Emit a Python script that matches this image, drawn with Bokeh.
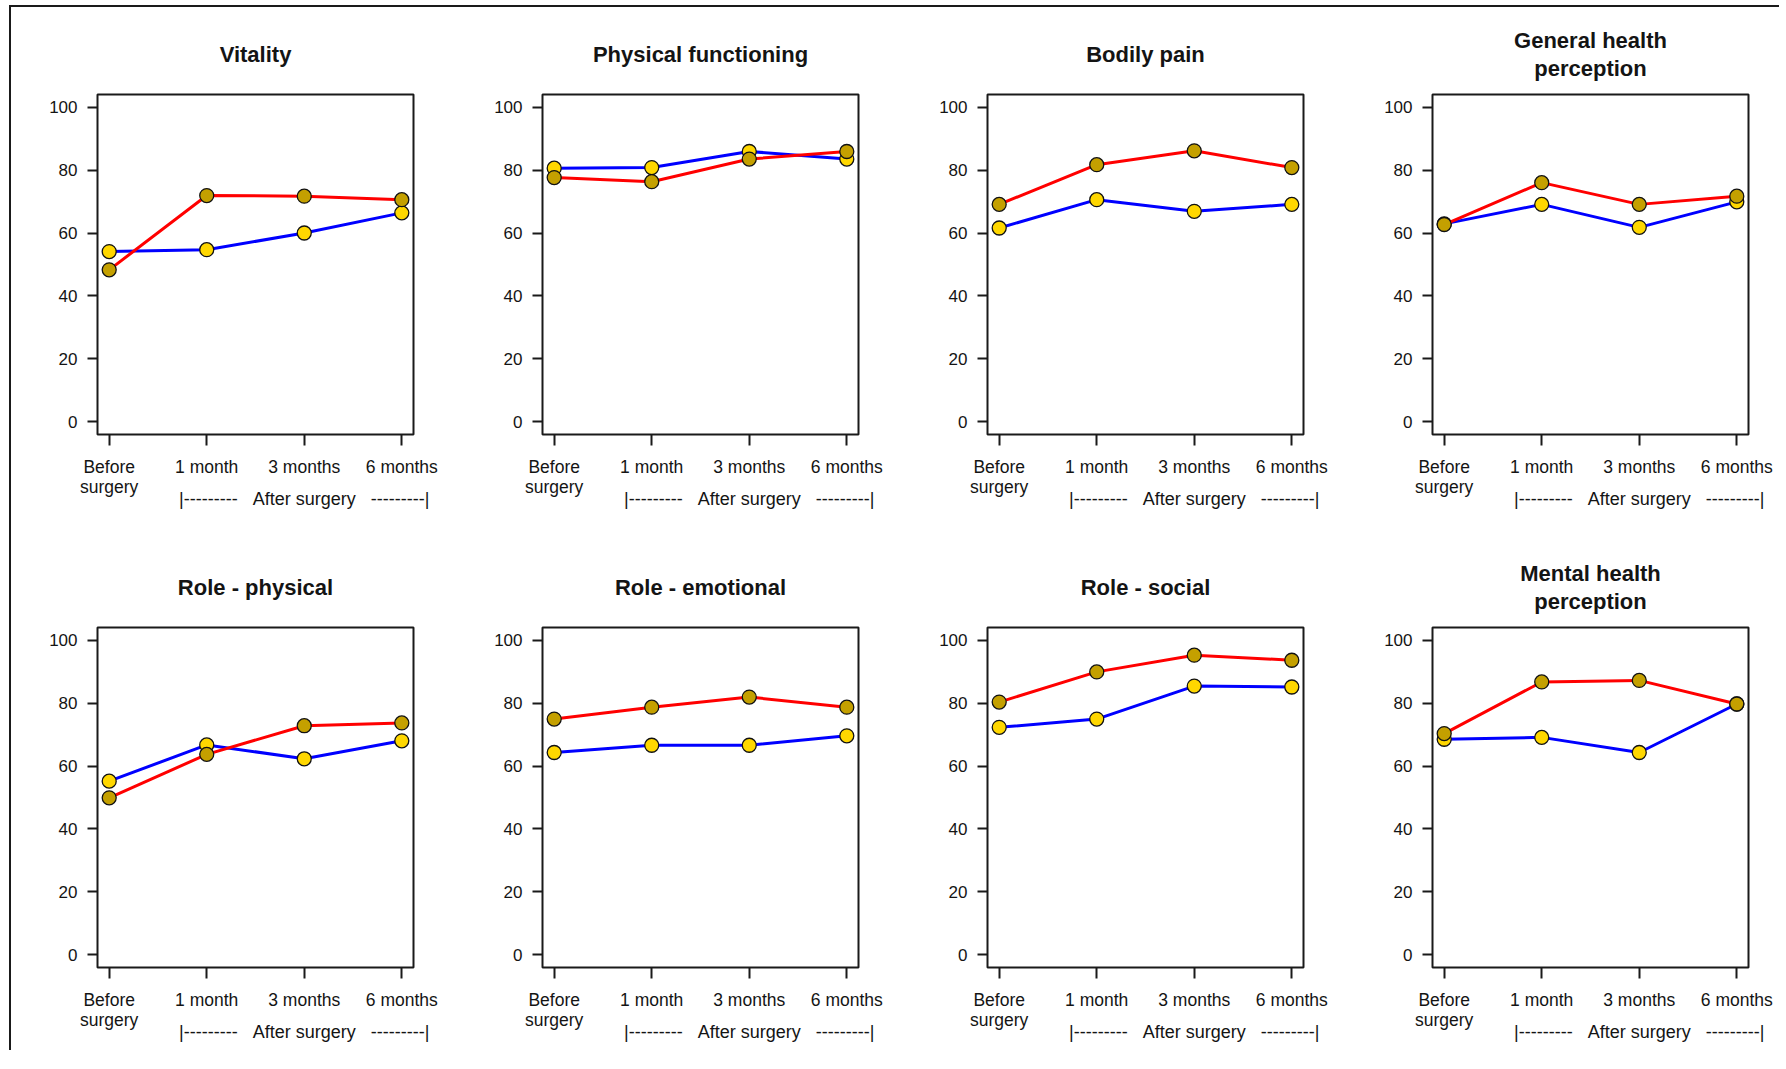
from bokeh.plotting import figure
from bokeh.models import Range1d, FixedTicker, LinearAxis, Title
from bokeh.layouts import column, row
from bokeh.embed import file_html
from bokeh.resources import INLINE

# ---------------- data ----------------
timepoints = [1, 2, 3, 4]
tick_names = ["Before\nsurgery", "1 month", "3 months", "6 months"]
y_ticks = [0, 20, 40, 60, 80, 100]
after_tick = [3]
after_label = "|---------\u00a0\u00a0\u00a0After surgery\u00a0\u00a0\u00a0---------|"

titles = ["Vitality", "Physical functioning", "Bodily pain",
          "General health\nperception", "Role - physical", "Role - emotional",
          "Role - social", "Mental health\nperception"]

# blue line / yellow markers
blue_vitality = [54.1, 54.7, 60.0, 66.4]
blue_physical = [80.6, 80.8, 85.9, 83.5]
blue_pain = [61.6, 70.6, 66.9, 69.1]
blue_general = [62.9, 69.1, 61.8, 69.9]
blue_role_phys = [55.2, 66.7, 62.3, 68.0]
blue_role_emo = [64.3, 66.6, 66.6, 69.6]
blue_role_soc = [72.3, 74.9, 85.4, 85.1]
blue_mental = [68.5, 69.1, 64.3, 79.7]

# red line / dark-gold markers
red_vitality = [48.3, 71.9, 71.7, 70.6]
red_physical = [77.6, 76.3, 83.5, 85.9]
red_pain = [69.1, 81.7, 86.1, 80.8]
red_general = [62.7, 76.0, 69.1, 71.7]
red_role_phys = [49.9, 63.7, 72.8, 73.7]
red_role_emo = [74.9, 78.7, 81.9, 78.7]
red_role_soc = [80.3, 89.9, 95.2, 93.6]
red_mental = [70.3, 86.7, 87.2, 79.7]

blue_series = [blue_vitality, blue_physical, blue_pain, blue_general,
               blue_role_phys, blue_role_emo, blue_role_soc, blue_mental]
red_series = [red_vitality, red_physical, red_pain, red_general,
              red_role_phys, red_role_emo, red_role_soc, red_mental]

FONT = "Liberation Sans"
TXT = "#141414"


def style_title(t):
    t.align = "center"
    t.text_font = FONT
    t.text_font_style = "bold"
    t.text_font_size = "22px"
    t.text_color = TXT


def make_panel(i, width, height, border_right, border_bottom):
    p = figure(width=width, height=height, output_backend="svg",
               toolbar_location=None, tools="",
               x_range=Range1d(0.88, 4.12), y_range=Range1d(-4, 104),
               min_border_left=86, min_border_right=border_right,
               min_border_top=87, min_border_bottom=border_bottom)
    p.background_fill_color = "white"
    p.border_fill_color = "white"
    p.outline_line_color = "#1a1a1a"
    p.outline_line_width = 2
    p.xgrid.visible = False
    p.ygrid.visible = False

    lines = titles[i].split("\n")
    if len(lines) == 1:
        p.title.text = lines[0]
        style_title(p.title)
        p.title.standoff = 55
    else:
        # outer line
        p.title.text = lines[0]
        style_title(p.title)
        p.title.standoff = -27
        # inner line (closest to the frame)
        t2 = Title(text=lines[1])
        style_title(t2)
        t2.standoff = 28
        p.add_layout(t2, "above")

    xa = p.xaxis[0]
    xa.ticker = FixedTicker(ticks=timepoints)
    xa.major_label_overrides = {t: n for t, n in zip(timepoints, tick_names)}
    xa.axis_line_color = None
    xa.major_tick_line_color = "#1a1a1a"
    xa.major_tick_line_width = 2
    xa.major_tick_in = 0
    xa.major_tick_out = 11
    xa.minor_tick_line_color = None
    xa.major_label_standoff = 11
    xa.major_label_text_font = FONT
    xa.major_label_text_font_size = "17.5px"
    xa.major_label_text_line_height = 1.0
    xa.major_label_text_color = TXT

    xa2 = LinearAxis(ticker=FixedTicker(ticks=after_tick),
                     major_label_overrides={after_tick[0]: after_label})
    xa2.axis_line_color = None
    xa2.major_tick_line_color = None
    xa2.minor_tick_line_color = None
    xa2.major_tick_in = 0
    xa2.major_tick_out = 0
    xa2.major_label_standoff = -11
    xa2.major_label_text_font = FONT
    xa2.major_label_text_font_size = "18px"
    xa2.major_label_text_color = TXT
    p.add_layout(xa2, "below")

    ya = p.yaxis[0]
    ya.ticker = FixedTicker(ticks=y_ticks)
    ya.axis_line_color = None
    ya.major_tick_line_color = "#1a1a1a"
    ya.major_tick_line_width = 2
    ya.major_tick_in = 0
    ya.major_tick_out = 10
    ya.minor_tick_line_color = None
    ya.major_label_standoff = 10
    ya.major_label_text_font = FONT
    ya.major_label_text_font_size = "17px"
    ya.major_label_text_color = TXT

    p.line(timepoints, blue_series[i], line_color="#0000FF", line_width=3)
    p.scatter(timepoints, blue_series[i], size=14, fill_color="#FFD700",
              line_color="#111111", line_width=1.3)
    p.line(timepoints, red_series[i], line_color="#FF0000", line_width=3)
    p.scatter(timepoints, red_series[i], size=14, fill_color="#C4A000",
              line_color="#111111", line_width=1.3)
    return p


rows = []
for r in range(2):
    figs = []
    for c in range(4):
        i = r * 4 + c
        w = 445 if c < 3 else 433
        br = w - 86 - 316
        h = 533 if r == 0 else 510
        bb = h - 87 - 340
        figs.append(make_panel(i, w, h, br, bb))
    rows.append(row(*figs))

layout = column(*rows, styles={"border-left": "2px solid #1a1a1a",
                               "border-top": "2px solid #1a1a1a",
                               "margin-left": "9px",
                               "margin-top": "5px"})

open("out.html", "w").write(file_html(layout, INLINE))
